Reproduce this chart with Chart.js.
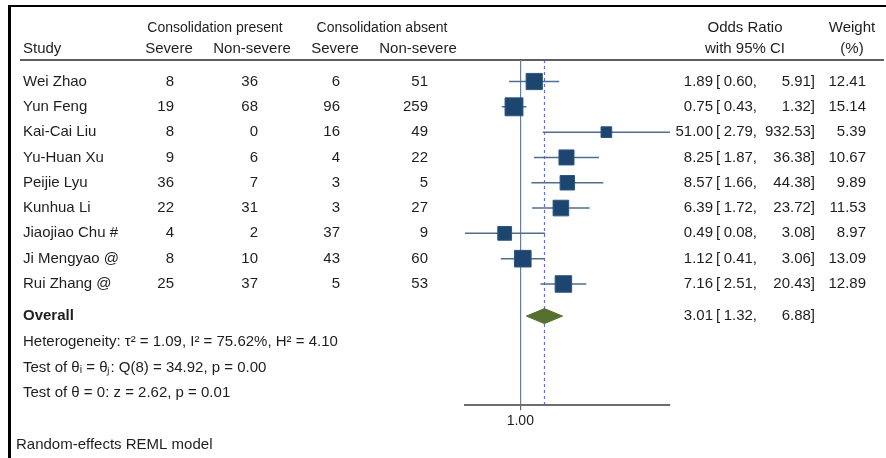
<!DOCTYPE html>
<html><head><meta charset="utf-8">
<script src="https://cdn.jsdelivr.net/npm/chart.js@4/dist/chart.umd.min.js"></script>
<style>html,body{margin:0;padding:0;background:#fff;overflow:hidden}#wrap{width:886px;height:458px;position:relative}</style>
</head><body><div id="wrap"><canvas id="c" width="886" height="458"></canvas></div>
<script>
// ---- data ----
const studies = ["Wei Zhao","Yun Feng","Kai-Cai Liu","Yu-Huan Xu","Peijie Lyu","Kunhua Li","Jiaojiao Chu #","Ji Mengyao @","Rui Zhang @"];
const cpSevere    = [8, 19, 8, 9, 36, 22, 4, 8, 25];
const cpNonSevere = [36, 68, 0, 6, 7, 31, 2, 10, 37];
const caSevere    = [6, 96, 16, 4, 3, 3, 37, 43, 5];
const caNonSevere = [51, 259, 49, 22, 5, 27, 9, 60, 53];
const oddsRatio   = [1.89, 0.75, 51.00, 8.25, 8.57, 6.39, 0.49, 1.12, 7.16];
const ciLow       = [0.60, 0.43, 2.79, 1.87, 1.66, 1.72, 0.08, 0.41, 2.51];
const ciHigh      = [5.91, 1.32, 932.53, 36.38, 44.38, 23.72, 3.08, 3.06, 20.43];
const weights     = [12.41, 15.14, 5.39, 10.67, 9.89, 11.53, 8.97, 13.09, 12.89];
const overallOR   = [3.01];
const overallLow  = [1.32];
const overallHigh = [6.88];
const xTicks      = [1];
const statsLines  = ["Heterogeneity: \u03C4\u00B2 = 1.09, I\u00B2 = 75.62%, H\u00B2 = 4.10",
                     "Test of \u03B8\u1D62 = \u03B8\u2C7C: Q(8) = 34.92, p = 0.00",
                     "Test of \u03B8 = 0: z = 2.62, p = 0.01"];
const footnote = "Random-effects REML model";

// ---- styling ----
const FONT = '"Liberation Sans", Arial, Helvetica, sans-serif';
const TXT = '#1e1e1e';
const ROW_OVERALL = 9.27;

const datasets = [{
  type: 'scatter',
  data: studies.map((s, i) => ({x: oddsRatio[i], y: i})),
  pointStyle: 'rect',
  pointRadius: weights.map(w => (4.6 * Math.sqrt(w)) / Math.SQRT2),
  pointHoverRadius: weights.map(w => (4.6 * Math.sqrt(w)) / Math.SQRT2),
  backgroundColor: '#1c4670',
  borderColor: '#2c5680',
  borderWidth: 1,
  order: 0
}];
studies.forEach((s, i) => {
  datasets.push({
    type: 'line',
    data: [{x: ciLow[i], y: i}, {x: ciHigh[i], y: i}],
    borderColor: '#506e8e',
    borderWidth: 1.5,
    pointRadius: 0,
    fill: false,
    order: 5
  });
});

function txt(ctx, s, x, y, align, size, bold) {
  ctx.font = (bold ? 'bold ' : '') + size + 'px ' + FONT;
  ctx.textAlign = align;
  ctx.textBaseline = 'middle';
  ctx.fillStyle = TXT;
  ctx.fillText(s, x, y);
}

const forestPlugin = {
  id: 'forest',
  beforeDraw(chart) {
    const ctx = chart.ctx;
    ctx.save();
    ctx.fillStyle = '#fff';
    ctx.fillRect(0, 0, chart.width, chart.height);
    // frame
    ctx.fillStyle = '#000';
    ctx.fillRect(8, 5, chart.width - 8, 2);
    ctx.fillRect(8, 5, 3, chart.height - 5);
    // header rule
    ctx.fillStyle = '#5e5e5e';
    ctx.fillRect(20, chart.chartArea.top - 1, 864, 2);
    ctx.restore();
  },
  beforeDatasetsDraw(chart) {
    const ctx = chart.ctx, xs = chart.scales.x, a = chart.chartArea;
    const x = xs.getPixelForValue(overallOR[0]);
    ctx.save();
    ctx.strokeStyle = '#5656ff';
    ctx.lineWidth = 1;
    ctx.setLineDash([3, 3]);
    ctx.beginPath();
    ctx.moveTo(x, a.top);
    ctx.lineTo(x, a.bottom);
    ctx.stroke();
    ctx.restore();
  },
  afterDatasetsDraw(chart) {
    const ctx = chart.ctx, xs = chart.scales.x, ys = chart.scales.y;
    const y = ys.getPixelForValue(ROW_OVERALL);
    const xl = xs.getPixelForValue(overallLow[0]);
    const xm = xs.getPixelForValue(overallOR[0]);
    const xh = xs.getPixelForValue(overallHigh[0]);
    ctx.save();
    ctx.fillStyle = '#55702e';
    ctx.strokeStyle = '#55702e';
    ctx.lineWidth = 1;
    ctx.beginPath();
    ctx.moveTo(xl, y);
    ctx.lineTo(xm, y - 7.5);
    ctx.lineTo(xh, y);
    ctx.lineTo(xm, y + 7.5);
    ctx.closePath();
    ctx.fill();
    ctx.stroke();
    ctx.restore();
  },
  afterDraw(chart) {
    const ctx = chart.ctx, ys = chart.scales.y;
    ctx.save();
    const yh1 = ys.getPixelForValue(-2.11), yh2 = ys.getPixelForValue(-1.28);
    txt(ctx, 'Consolidation present', 215, yh1, 'center', 14);
    txt(ctx, 'Consolidation absent', 382, yh1, 'center', 14);
    txt(ctx, 'Odds Ratio', 745, yh1, 'center', 15);
    txt(ctx, 'Weight', 852, yh1, 'center', 15);
    txt(ctx, 'Study', 23, yh2, 'left', 15);
    txt(ctx, 'Severe', 169, yh2, 'center', 15);
    txt(ctx, 'Non-severe', 252, yh2, 'center', 15);
    txt(ctx, 'Severe', 335, yh2, 'center', 15);
    txt(ctx, 'Non-severe', 418, yh2, 'center', 15);
    txt(ctx, 'with 95% CI', 745, yh2, 'center', 15);
    txt(ctx, '(%)', 852, yh2, 'center', 15);
    studies.forEach((s, i) => {
      const y = ys.getPixelForValue(i);
      txt(ctx, s, 23, y, 'left', 15);
      txt(ctx, String(cpSevere[i]), 174, y, 'right', 15);
      txt(ctx, String(cpNonSevere[i]), 258, y, 'right', 15);
      txt(ctx, String(caSevere[i]), 340, y, 'right', 15);
      txt(ctx, String(caNonSevere[i]), 428, y, 'right', 15);
      txt(ctx, oddsRatio[i].toFixed(2), 713, y, 'right', 15);
      txt(ctx, '[', 716, y, 'left', 15);
      txt(ctx, ciLow[i].toFixed(2) + ',', 757, y, 'right', 15);
      txt(ctx, ciHigh[i].toFixed(2) + ']', 815, y, 'right', 15);
      txt(ctx, weights[i].toFixed(2), 866, y, 'right', 15);
    });
    const yo = ys.getPixelForValue(ROW_OVERALL);
    txt(ctx, 'Overall', 23, yo, 'left', 15, true);
    txt(ctx, overallOR[0].toFixed(2), 713, yo, 'right', 15);
    txt(ctx, '[', 716, yo, 'left', 15);
    txt(ctx, overallLow[0].toFixed(2) + ',', 757, yo, 'right', 15);
    txt(ctx, overallHigh[0].toFixed(2) + ']', 815, yo, 'right', 15);
    statsLines.forEach((s, k) => {
      txt(ctx, s, 23, ys.getPixelForValue(10.3 + k), 'left', 15);
    });
    txt(ctx, footnote, 16, ys.getPixelForValue(14.37), 'left', 15);
    ctx.restore();
  }
};

new Chart(document.getElementById('c'), {
  type: 'scatter',
  data: {datasets},
  options: {
    responsive: false,
    animation: false,
    events: [],
    layout: {padding: {left: 465, right: 216, top: 60, bottom: 25}},
    plugins: {legend: {display: false}, tooltip: {enabled: false}},
    scales: {
      x: {
        type: 'logarithmic',
        min: Math.min(...ciLow),
        max: Math.max(...ciHigh),
        afterBuildTicks(scale) { scale.ticks = xTicks.map(v => ({value: v})); },
        ticks: {
          font: {family: FONT, size: 14},
          color: TXT,
          padding: 3,
          maxRotation: 0,
          autoSkip: false,
          callback: v => Number(v).toFixed(2)
        },
        grid: {display: true, drawOnChartArea: true, color: '#6b7e94', lineWidth: 1.2, tickLength: 5, tickColor: '#666'},
        border: {display: true, color: '#6e6e6e', width: 2}
      },
      y: {
        type: 'linear',
        display: false,
        reverse: true,
        min: -0.85,
        max: 12.79
      }
    }
  },
  plugins: [forestPlugin]
});
</script>
</body></html>
